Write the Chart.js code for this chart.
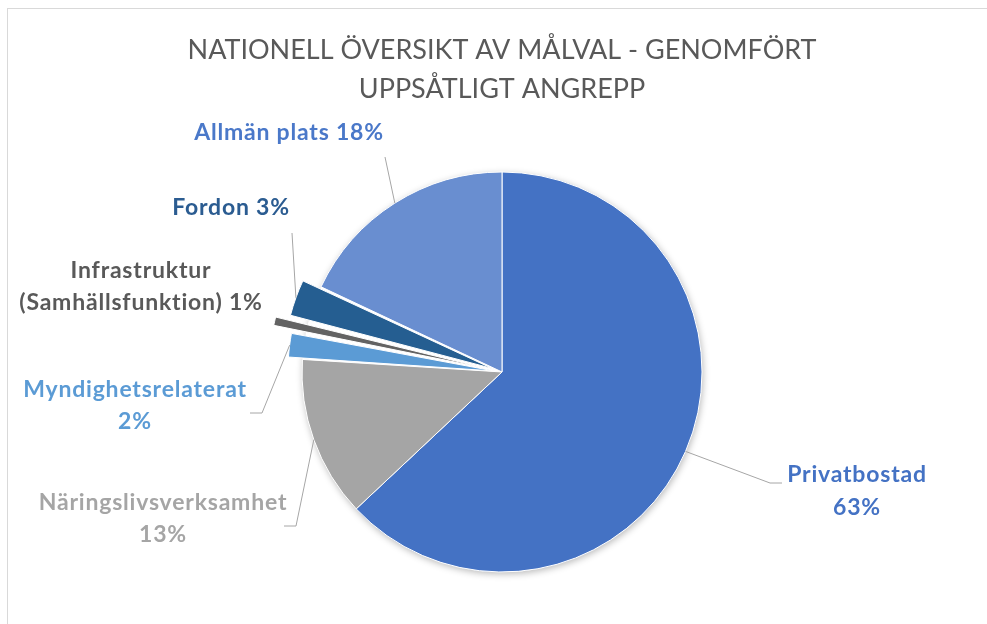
<!DOCTYPE html>
<html>
<head>
<meta charset="utf-8">
<script src="https://cdn.jsdelivr.net/npm/chart.js@4"></script>
<style>
  html, body { margin: 0; padding: 0; background: #fff; }
  #wrap { position: relative; width: 987px; height: 624px; overflow: hidden; }
  #ram { position: absolute; left: 7px; top: 8px; right: 0; bottom: -2px; border-top: 1px solid #d9d9d9; border-left: 1px solid #d9d9d9; }
  canvas { position: absolute; left: 0; top: 0; }
</style>
</head>
<body>
<div id="wrap">
  <div id="ram"></div>
  <canvas id="myChart" width="987" height="624"></canvas>
</div>
<script>
// data
const titel = ["NATIONELL ÖVERSIKT AV MÅLVAL - GENOMFÖRT", "UPPSÅTLIGT ANGREPP"];
const kategorier = ["Privatbostad", "Näringslivsverksamhet", "Myndighetsrelaterat", "Infrastruktur (Samhällsfunktion)", "Fordon", "Allmän plats"];
const andelar = [63, 13, 2, 1, 3, 18];
const etiketter = [
  ["Privatbostad", "63%"],
  ["Näringslivsverksamhet", "13%"],
  ["Myndighetsrelaterat", "2%"],
  ["Infrastruktur", "(Samhällsfunktion) 1%"],
  ["Fordon 3%"],
  ["Allmän plats 18%"]
];

// utseende
const farger = ["#4472C4", "#A5A5A5", "#5B9BD5", "#636363", "#255E91", "#698ED0"];
const textFarger = ["#4472C4", "#A5A5A5", "#5B9BD5", "#595959", "#2B5C91", "#4A78C9"];
// chart.js flyttar bitarna offset/4 och gör dem lite större
const utskjut = [0, 0, 30, 68, 42, 0];

// var etiketterna står (mitt på varje rad) och hur ledarlinjen börjar
const etikettPos = [
  { x: 857, y: [475, 508], linje: [[782, 483], [770, 483]] },
  { x: 163, y: [503, 535], linje: [[284, 526], [296, 526]] },
  { x: 135, y: [390, 422], linje: [[250, 413], [262, 413]] },
  { x: 141, y: [271, 303], linje: null },
  { x: 231, y: [208], linje: [[292, 233]] },
  { x: 289, y: [133], linje: [[385, 157]] }
];

// skugga under cirkeln
const skuggPlugin = {
  id: "skugga",
  beforeDatasetsDraw(chart) {
    const arc = chart.getDatasetMeta(0).data[0];
    if (!arc) return;
    const ctx = chart.ctx;
    ctx.save();
    ctx.shadowColor = "rgba(0,0,0,0.28)";
    ctx.shadowBlur = 7;
    ctx.shadowOffsetX = 1;
    ctx.shadowOffsetY = 2;
    ctx.fillStyle = "#fff";
    ctx.beginPath();
    ctx.arc(arc.x, arc.y, arc.outerRadius, 0, Math.PI * 2);
    ctx.fill();
    ctx.restore();
  }
};

// etiketter + ledarlinjer
const etikettPlugin = {
  id: "etiketter",
  afterDatasetsDraw(chart) {
    const ctx = chart.ctx;
    const meta = chart.getDatasetMeta(0);
    meta.data.forEach(function (arc, i) {
      const pos = etikettPos[i];
      const mitt = (arc.startAngle + arc.endAngle) / 2;
      const off = (arc.options.offset || 0) / 4;
      const fix = 1 - Math.sin(Math.min(Math.PI, arc.circumference));
      const r = off + arc.outerRadius + off * fix;
      const ax = arc.x + Math.cos(mitt) * r;
      const ay = arc.y + Math.sin(mitt) * r;

      if (pos.linje) {
        ctx.save();
        ctx.strokeStyle = "#A6A6A6";
        ctx.lineWidth = 1;
        ctx.beginPath();
        ctx.moveTo(pos.linje[0][0], pos.linje[0][1]);
        for (let k = 1; k < pos.linje.length; k++) {
          ctx.lineTo(pos.linje[k][0], pos.linje[k][1]);
        }
        ctx.lineTo(ax, ay);
        ctx.stroke();
        ctx.restore();
      }

      ctx.save();
      ctx.font = "bold 23px Lato";
      ctx.letterSpacing = "0.8px";
      ctx.fillStyle = textFarger[i];
      ctx.textAlign = "center";
      ctx.textBaseline = "middle";
      etiketter[i].forEach(function (rad, k) {
        ctx.fillText(rad, pos.x, pos.y[k]);
      });
      ctx.restore();
    });
  }
};

const data = {
  labels: kategorier,
  datasets: [
    {
      data: andelar,
      backgroundColor: farger,
      borderColor: "#ffffff",
      borderWidth: 1,
      offset: utskjut
    }
  ]
};

const config = {
  type: "pie",
  data: data,
  options: {
    responsive: false,
    animation: false,
    radius: 200,
    layout: { padding: { left: 17, right: 0, top: 0, bottom: 0 } },
    plugins: {
      legend: { display: false },
      tooltip: { enabled: false },
      title: {
        display: true,
        text: titel,
        color: "#595959",
        font: { family: "Lato", size: 27, weight: "normal", lineHeight: 1.444 },
        padding: { top: 31, bottom: 11 }
      }
    }
  },
  plugins: [skuggPlugin, etikettPlugin]
};

const myChart = new Chart(document.getElementById("myChart"), config);
</script>
</body>
</html>
